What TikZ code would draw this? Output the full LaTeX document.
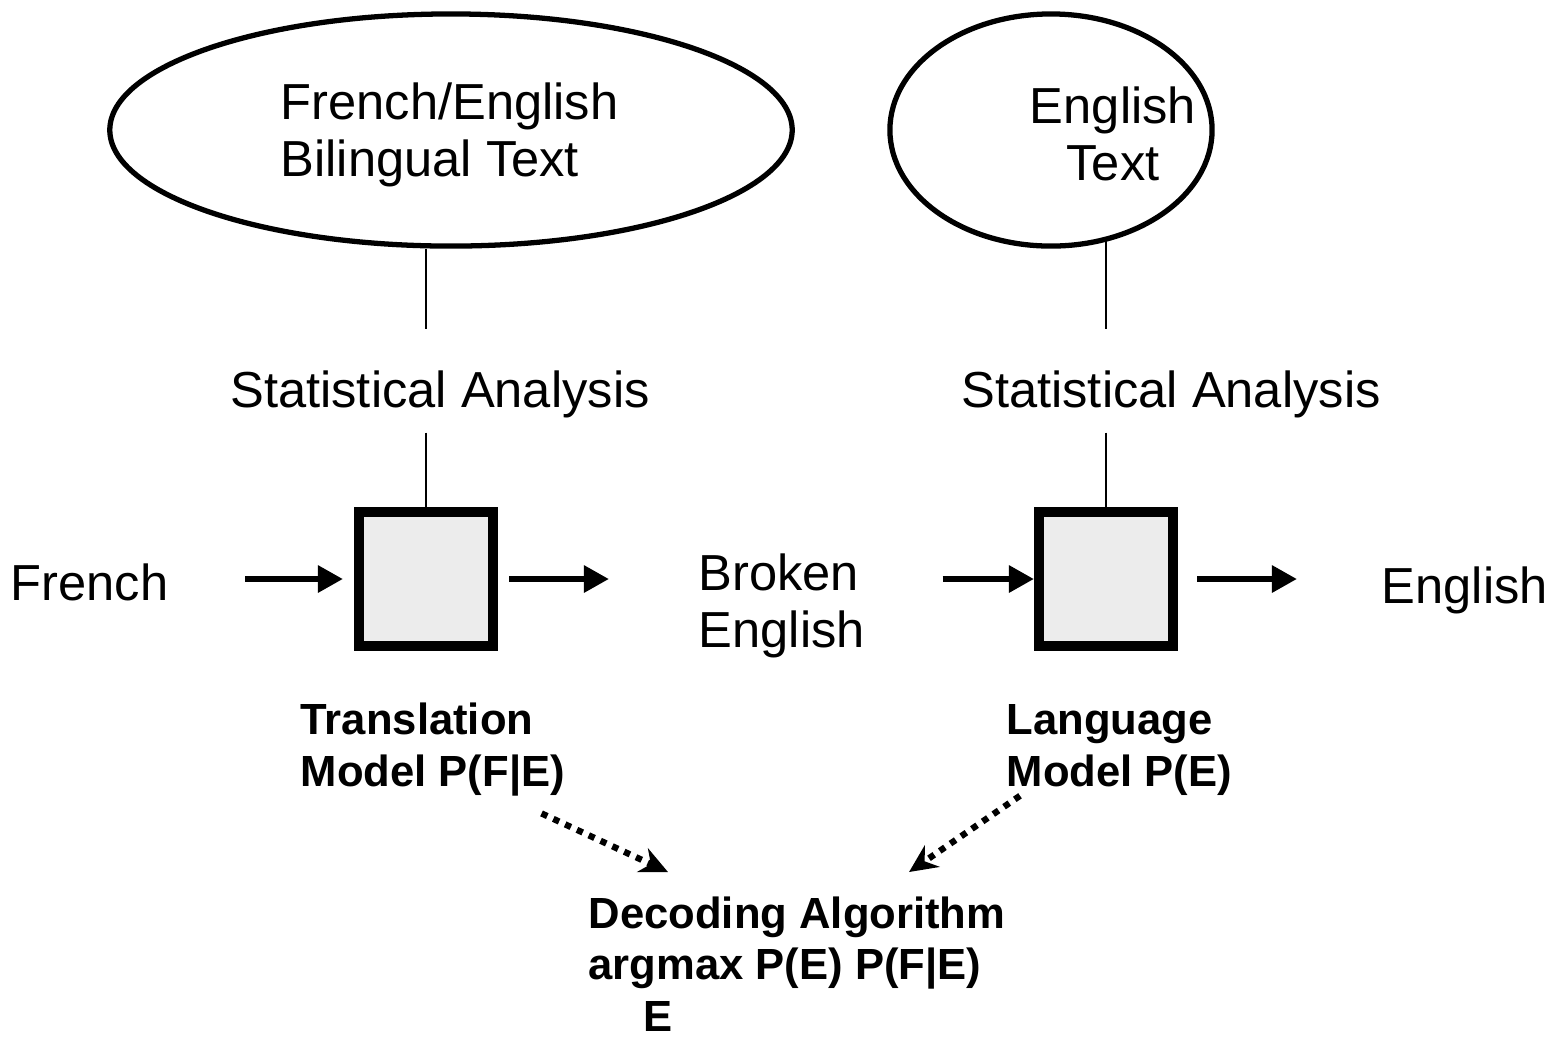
\documentclass[tikz,border=0pt]{standalone}
\usepackage{fontspec}
\setmainfont{Liberation Sans}
\usetikzlibrary{arrows.meta,shapes.geometric}

\begin{document}
\begin{tikzpicture}[x=0.01cm,y=-0.01cm,
  txt/.style={inner sep=0pt,font=\fontsize{14.4}{16.2}\selectfont},
  btxt/.style={inner sep=0pt,align=left,font=\fontsize{12.4}{14.6}\selectfont\bfseries},
  stat/.style={txt,anchor=base,inner ysep=0pt,text height=0.77cm,text depth=0.25cm},
  src/.style={ellipse,draw,line width=1.5pt,inner sep=0pt,minimum height=2.32cm},
  model/.style={draw,line width=2.85pt,fill=gray!15,minimum size=1.34cm,inner sep=0pt},
  link/.style={line width=0.6pt},
  flow/.style={line width=1.7pt,-{Triangle[length=2.5mm,width=2.6mm]}},
  dots/.style={line width=1.8pt,dash pattern=on 1.8pt off 1.9pt,-{Stealth[length=2.8mm,width=2.6mm]}}]
\useasboundingbox (0,0) rectangle (1554,1038);

% corpora
\node[src,minimum width=6.82cm] (FEell) at (451,130) {};
\node[src,minimum width=3.22cm] (Eell) at (1051,130) {};
\node[txt,align=left,anchor=base west] (FEtxt) at (280,176) {French/English\\Bilingual Text};
\node[txt,align=center,anchor=base] (Etxt) at (1113,180) {English\\Text};

\node[stat] (FEstat) at (440,407) {Statistical Analysis};
\node[stat] (Estat) at (1171,407) {Statistical Analysis};

% models
\node[model] (TMbox) at (426,579) {};
\node[model] (LMbox) at (1106,579) {};

\node[txt,anchor=base west] (French) at (10,600) {French};
\node[txt,align=left,anchor=base west] (Broken) at (698,647) {Broken\\English};
\node[txt,anchor=base west] (English) at (1381,603) {English};

\node[btxt,anchor=base west] (Trans) at (300,786) {Translation\\Model P(F|E)};
\node[btxt,anchor=base west] (Lang) at (1006,786) {Language\\Model P(E)};
\node[btxt,anchor=base west] (Dec) at (588,1031) {Decoding Algorithm\\argmax P(E) P(F|E)\\\hspace*{0.55cm}E};

\draw[link] (TMbox |- FEell.south) -- (TMbox |- FEstat.north);
\draw[link] (TMbox |- FEstat.south) -- (TMbox.north);
\draw[link] (LMbox |- Eell.-63) -- (LMbox |- Estat.north);
\draw[link] (LMbox |- Estat.south) -- (LMbox.north);

\draw[flow,shorten <=0.76cm,shorten >=0.11cm] (TMbox.west -| French.east) -- (TMbox.west);
\draw[flow,shorten <=0.11cm,shorten >=0.89cm] (TMbox.east) -- (TMbox.east -| Broken.west);
\draw[flow,shorten <=0.77cm] (LMbox.west -| Broken.east) -- (LMbox.west);
\draw[flow,shorten <=0.19cm,shorten >=0.84cm] (LMbox.east) -- (LMbox.east -| English.west);

% decoding
\draw[dots] ([shift={(-24,17)}]Trans.south east) -- ([shift={(80,-24)}]Dec.north west);
\draw[dots] ([shift={(14,0)}]Lang.south west) -- ([shift={(112,-24)}]Dec.north);
\end{tikzpicture}
\end{document}
